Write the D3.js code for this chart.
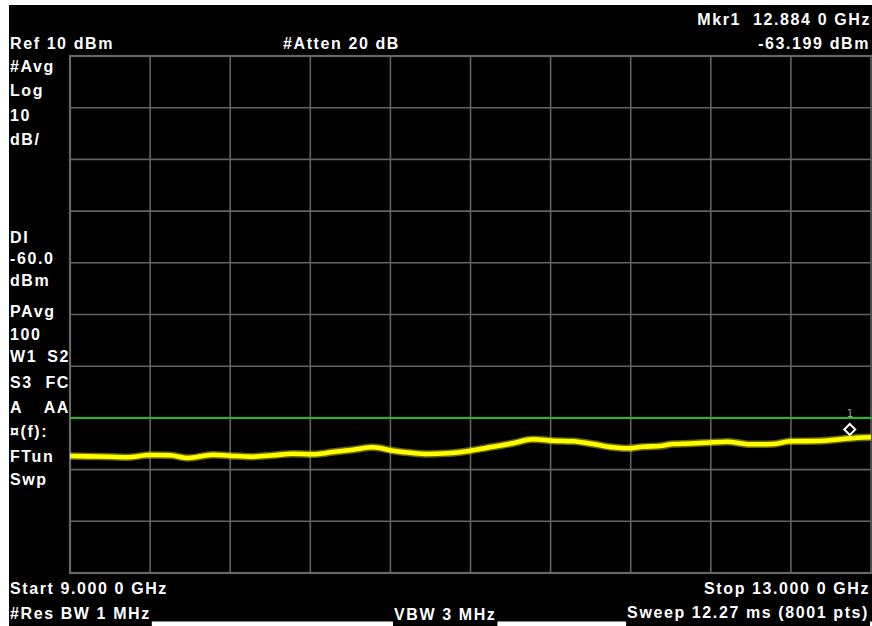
<!DOCTYPE html>
<html>
<head>
<meta charset="utf-8">
<script src="https://cdn.jsdelivr.net/npm/d3@7"></script>
<style>
  html, body { margin: 0; padding: 0; background: #fff; }
  svg { display: block; }
  text { font-family: "Liberation Sans", Arial, sans-serif; font-weight: bold; fill: #fff; }
</style>
</head>
<body>
<svg id="chart" width="872" height="626"></svg>
<script>
// Sweep settings
const startGHz = 9.0;
const stopGHz = 13.0;
const refLevel = 10;      // dBm, top of screen
const dbPerDiv = 10;
const divisions = 10;
const displayLine = -60;  // dBm

// Averaged trace: frequency (GHz) and level (dBm)
const traceFreq = [9.000, 9.100, 9.200, 9.285, 9.400, 9.499, 9.589, 9.714, 9.799, 9.914,
  10.014, 10.114, 10.213, 10.313, 10.413, 10.513, 10.613, 10.700, 10.783, 10.883,
  10.998, 11.112, 11.212, 11.312, 11.412, 11.512, 11.612, 11.712, 11.782, 11.861,
  11.946, 12.011, 12.100, 12.181, 12.281, 12.396, 12.511, 12.596, 12.730, 12.845,
  12.884, 12.930, 13.000];
const traceLevel = [-67.37, -67.45, -67.50, -67.62, -67.18, -67.23, -67.76, -67.12, -67.31, -67.50,
  -67.23, -66.92, -67.04, -66.60, -66.15, -65.69, -66.34, -66.75, -66.98, -66.85,
  -66.34, -65.57, -64.91, -64.14, -64.41, -64.53, -65.05, -65.69, -65.88, -65.57,
  -65.44, -65.05, -64.95, -64.80, -64.60, -65.11, -65.05, -64.53, -64.47, -64.14,
  -64.00, -63.83, -63.75];

// Marker 1
const markerFreq = 12.884;
const markerLevel = -63.199;

// Annotation texts
const leftLabels = [
  ["#Avg", 72], ["Log", 96], ["10", 121], ["dB/", 145],
  ["DI", 243], ["-60.0", 264], ["dBm", 286],
  ["PAvg", 317], ["100", 340]
];
const leftPairs = [
  ["W1", "S2", 362], ["S3", "FC", 388], ["A", "AA", 413]
];
const leftLabels2 = [["\u00a4(f):", 437], ["FTun", 462], ["Swp", 485]];

const svg = d3.select("#chart");
const W = 872, H = 626;

// Screen background
svg.append("rect").attr("x", 9).attr("y", 5).attr("width", W - 9).attr("height", 616).attr("fill", "#000");
svg.append("line").attr("x1", 9).attr("x2", W).attr("y1", 621.5).attr("y2", 621.5)
  .attr("stroke", "#888").attr("stroke-width", 1);

const plot = { left: 70, right: 871, top: 56, bottom: 573 };
const x = d3.scaleLinear().domain([startGHz, stopGHz]).range([plot.left, plot.right]);
const y = d3.scaleLinear().domain([refLevel - dbPerDiv * divisions, refLevel]).range([plot.bottom, plot.top]);

// Graticule
const gridColor = "#626262";
const g = svg.append("g");
const xTicks = d3.range(0, divisions + 1).map(i => startGHz + i * (stopGHz - startGHz) / divisions);
const yTicks = d3.range(0, divisions + 1).map(i => refLevel - i * dbPerDiv);
g.selectAll(".vgrid").data(xTicks).join("line")
  .attr("x1", d => x(d)).attr("x2", d => x(d))
  .attr("y1", plot.top).attr("y2", plot.bottom)
  .attr("stroke", gridColor).attr("stroke-width", 1.6);
g.selectAll(".hgrid").data(yTicks).join("line")
  .attr("x1", plot.left).attr("x2", plot.right)
  .attr("y1", d => y(d)).attr("y2", d => y(d))
  .attr("stroke", gridColor).attr("stroke-width", 1.6);
g.append("rect").attr("x", plot.left).attr("y", plot.top)
  .attr("width", plot.right - plot.left + 4).attr("height", plot.bottom - plot.top)
  .attr("fill", "none").attr("stroke", "#666").attr("stroke-width", 2.2);

// Display line
svg.append("line")
  .attr("x1", plot.left).attr("x2", W)
  .attr("y1", y(displayLine)).attr("y2", y(displayLine))
  .attr("stroke", "#1fbf1f").attr("stroke-width", 2);

// Trace
const traceData = traceFreq.map((f, i) => ({ f, v: traceLevel[i] }));
const line = d3.line().x(d => x(d.f)).y(d => y(d.v)).curve(d3.curveMonotoneX);
svg.append("path").datum(traceData).attr("d", line)
  .attr("fill", "none").attr("stroke", "#e6e600").attr("stroke-opacity", 0.45)
  .attr("stroke-width", 7.5);
svg.append("path").datum(traceData).attr("d", line)
  .attr("fill", "none").attr("stroke", "#ffff00").attr("stroke-width", 4.6);

// Marker diamond with its number
const mx = x(markerFreq) + 2, my = y(markerLevel) - 5;
svg.append("path")
  .attr("d", `M${mx},${my - 5.5} L${mx + 5.5},${my} L${mx},${my + 5.5} L${mx - 5.5},${my} Z`)
  .attr("fill", "#000").attr("stroke", "#fff").attr("stroke-width", 2);
svg.append("text").attr("x", mx).attr("y", my - 12).attr("text-anchor", "middle")
  .style("font-family", "DejaVu Sans Mono, monospace").style("font-weight", "normal")
  .style("font-size", "11px").style("fill", "#9a9a9a").text("1");

// Header / footer annotations
const fs = "16px", ls = "1.6px";
function label(txt, tx, ty, anchor) {
  const t = svg.append("text").attr("x", tx).attr("y", ty)
    .attr("text-anchor", anchor || "start")
    .style("font-size", fs).style("letter-spacing", ls).text(txt);
  return t;
}
label("Ref 10 dBm", 10, 49);
label("#Atten 20 dB", 283, 49);
label("Mkr1  12.884 0 GHz", 871, 25, "end").attr("xml:space", "preserve");
label("-63.199 dBm", 870, 49, "end");
label("Start 9.000 0 GHz", 10, 594);
label("Stop 13.000 0 GHz", 870, 594, "end");

// Bottom row sits on black boxes
function boxed(txt, tx, ty, anchor) {
  const t = label(txt, tx, ty, anchor);
  const bb = t.node().getBBox();
  svg.insert("rect", () => t.node())
    .attr("x", bb.x - 1).attr("y", bb.y).attr("width", bb.width + 2).attr("height", H - bb.y)
    .attr("fill", "#000");
  return t;
}
boxed("#Res BW 1 MHz", 10, 619);
boxed("VBW 3 MHz", 394, 620);
boxed("Sweep 12.27 ms (8001 pts)", 869, 618, "end");

leftLabels.forEach(([t, by]) => label(t, 10, by));
leftPairs.forEach(([a, b, by]) => { label(a, 10, by); label(b, 70, by, "end"); });
leftLabels2.forEach(([t, by]) => label(t, 10, by));
</script>
</body>
</html>
